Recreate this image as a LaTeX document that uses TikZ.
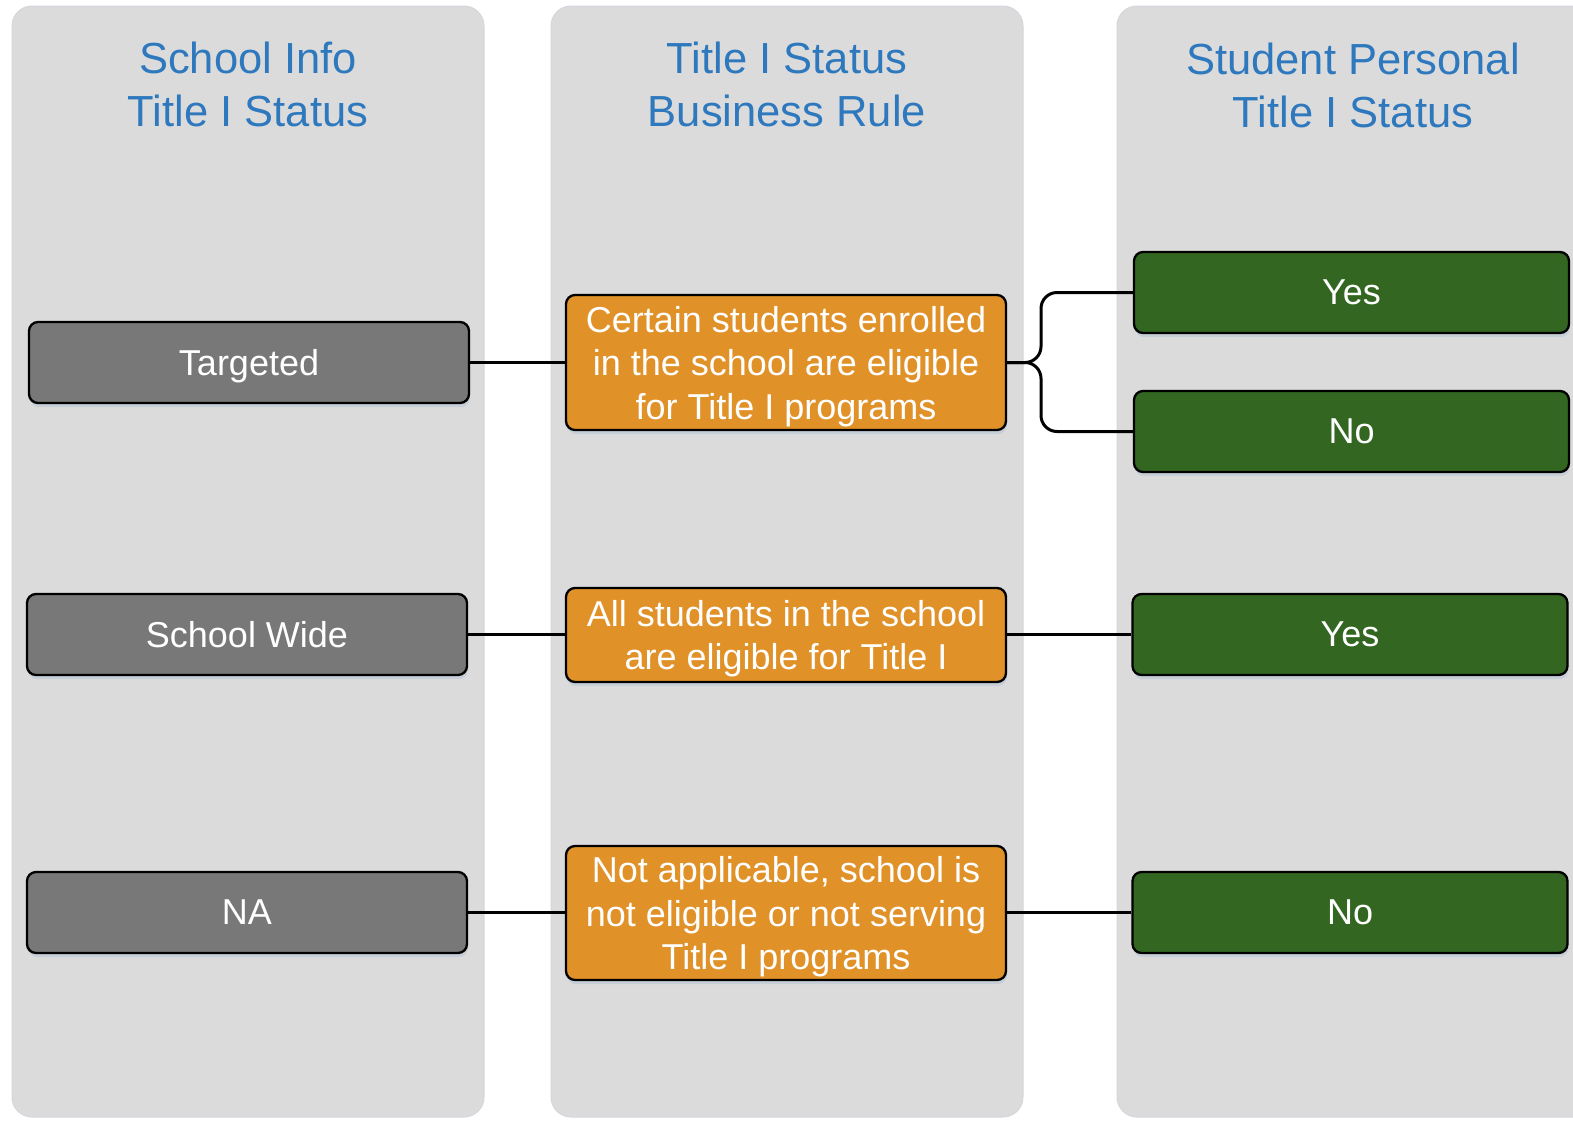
\documentclass[tikz,border=0pt]{standalone}
\usepackage{fontspec}
\setmainfont{Liberation Sans}
\usetikzlibrary{shadows}
\definecolor{panelfill}{HTML}{DBDBDB}
\definecolor{paneledge}{HTML}{D3D7DD}
\definecolor{titleblue}{HTML}{2E78BE}
\definecolor{boxgray}{HTML}{787878}
\definecolor{boxorange}{HTML}{E09128}
\definecolor{boxgreen}{HTML}{336621}
\definecolor{shadowblue}{HTML}{B9C6D6}
\begin{document}
\begin{tikzpicture}[x=1pt,y=-1pt,
  panel/.style={fill=panelfill,draw=paneledge,line width=1pt,rounded corners=20pt},
  coltitle/.style={text=titleblue,align=center,font=\fontsize{43.5}{53}\selectfont},
  basebox/.style={draw=black,line width=2.3pt,rounded corners=9pt,text=white,align=center,
    font=\fontsize{36}{43.5}\selectfont,inner sep=0pt,text depth=0pt,
    drop shadow={shadow xshift=1pt,shadow yshift=-4pt,fill=shadowblue,opacity=0.6}},
  graybox/.style={basebox,fill=boxgray,minimum width=440pt,minimum height=81pt},
  orangebox/.style={basebox,fill=boxorange,minimum width=440pt},
  greenbox/.style={basebox,fill=boxgreen,minimum width=435pt,minimum height=81pt},
  link/.style={draw=black,line width=3pt}]
\clip (0,0) rectangle (1573,1120);
\fill[white] (0,0) rectangle (1573,1120);
% panels
\draw[panel] (12,6) rectangle (484,1117);
\draw[panel] (551,6) rectangle (1023,1117);
\draw[panel] (1117,6) rectangle (1620,1117);
% titles
\node[coltitle] (t1) at (248,84) {School Info\\Title I Status};
\node[coltitle] (t2) at (787,84) {Title I Status\\Business Rule};
\node[coltitle] (t3) at (1353,85) {Student Personal\\Title I Status};
% left column
\node[graybox] (targ) at (249,362.5) {Targeted};
\node[graybox] (sw) at (247,634.5) {School Wide};
\node[graybox] (na) at (247,912.5) {NA};
% middle column
\node[orangebox,minimum height=135pt] (r1) at (786,362.5) {Certain students enrolled\\in the school are eligible\\for Title I programs};
\node[orangebox,minimum height=94pt] (r2) at (786,635) {All students in the school\\are eligible for Title I};
\node[orangebox,minimum height=134pt] (r3) at (786,913) {Not applicable, school is\\not eligible or not serving\\Title I programs};
% right column
\node[greenbox] (y1) at (1351.5,292.5) {Yes};
\node[greenbox] (n1) at (1351.5,431.5) {No};
\node[greenbox] (y2) at (1350,634.5) {Yes};
\node[greenbox] (n2) at (1350,912.5) {No};
% connectors
\draw[link] (targ.east) -- (r1.west);
\draw[link] (sw.east) -- (sw.east -| r2.west);
\draw[link] (na.east) -- (na.east -| r3.west);
\draw[link] (r2.east |- y2.west) -- (y2.west);
\draw[link] (r3.east |- n2.west) -- (n2.west);
\coordinate (fork) at (1041,362.5);
\draw[link,rounded corners=16pt] (r1.east) -- (fork) -- (fork |- y1.west) -- (y1.west);
\draw[link,rounded corners=16pt] (r1.east) -- (fork) -- (fork |- n1.west) -- (n1.west);
\end{tikzpicture}
\end{document}
